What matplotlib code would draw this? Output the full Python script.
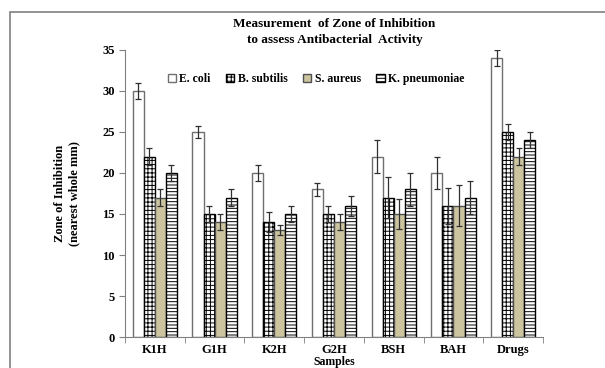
import numpy as np
import matplotlib.pyplot as plt
from matplotlib.patches import Rectangle

plt.rcParams['font.family'] = 'Liberation Serif'
plt.rcParams['font.weight'] = 'bold'
plt.rcParams['hatch.linewidth'] = 0.7

# Dados
samples = ['K1H', 'G1H', 'K2H', 'G2H', 'BSH', 'BAH', 'Drugs']
ecoli = [30, 25, 20, 18, 22, 20, 34]
bsub = [22, 15, 14, 15, 17, 16, 25]
saureus = [17, 14, 13, 14, 15, 16, 22]
kpneu = [20, 17, 15, 16, 18, 17, 24]

ecoli_err = [1.0, 0.7, 1.0, 0.8, 2.0, 2.0, 1.0]
bsub_err = [1.0, 1.0, 1.2, 1.0, 2.5, 2.2, 1.0]
saureus_err = [1.0, 1.0, 0.6, 1.0, 1.8, 2.5, 1.0]
kpneu_err = [1.0, 1.0, 1.0, 1.2, 2.0, 2.0, 1.0]

series = [
    ('E. coli', ecoli, ecoli_err, 'white', '', '#707070'),
    ('B. subtilis', bsub, bsub_err, 'white', '++++', 'black'),
    ('S. aureus', saureus, saureus_err, '#CBC49F', '', '#505050'),
    ('K. pneumoniae', kpneu, kpneu_err, 'white', '-----', 'black'),
]

fig = plt.figure(figsize=(6.05, 3.68), dpi=100)
ax = fig.add_axes([0.2066, 0.0842, 0.691, 0.78])

# moldura cinza em volta da figura
fig.patches.append(Rectangle((10 / 605, -0.1), 1.2, 1 - 12 / 368 + 0.1,
                             transform=fig.transFigure, fill=False,
                             edgecolor='#808080', lw=1.2))

x = np.arange(len(samples))
w = 0.185
for i, (name, vals, err, fc, hatch, ec) in enumerate(series):
    pos = x + (i - 1.5) * w
    ax.bar(pos, vals, width=w, color=fc, hatch=hatch, edgecolor=ec,
           linewidth=1.0, label=name)
    ax.errorbar(pos, vals, yerr=err, fmt='none', ecolor='#303030',
                elinewidth=0.9, capsize=2.2, capthick=0.9)

ax.set_xlim(-0.5, len(samples) - 0.5)
ax.set_ylim(0, 35)
ax.set_yticks(range(0, 36, 5))
ax.set_xticks(x)
ax.set_xticklabels(samples, fontsize=9, fontweight='bold')
ax.set_xticks(np.arange(-0.5, len(samples), 1), minor=True)
ax.tick_params(axis='x', which='major', length=0, pad=5)
ax.tick_params(axis='x', which='minor', length=4, direction='out', color='#808080')
ax.tick_params(axis='y', length=4, direction='out', color='#808080', labelsize=9)
for s in ['top', 'right']:
    ax.spines[s].set_visible(False)
for s in ['left', 'bottom']:
    ax.spines[s].set_color('#808080')

ax.set_ylabel('Zone of Inhibition\n(nearest whole mm)', fontsize=9,
              fontweight='bold', labelpad=16)
ax.set_xlabel('Samples', fontsize=8.5, fontweight='bold', labelpad=0)

fig.text(0.553, 0.952, 'Measurement  of Zone of Inhibition\nto assess Antibacterial  Activity',
         ha='center', va='top', fontsize=9.5, fontweight='bold', linespacing=1.5)

ax.legend(loc='upper center', bbox_to_anchor=(0.457, 0.935), ncol=4, frameon=False,
          fontsize=8.5, handlelength=0.7, handleheight=0.7, handletextpad=0.3,
          columnspacing=1.3, borderaxespad=0.0)

fig.savefig('out.png', dpi=100)
